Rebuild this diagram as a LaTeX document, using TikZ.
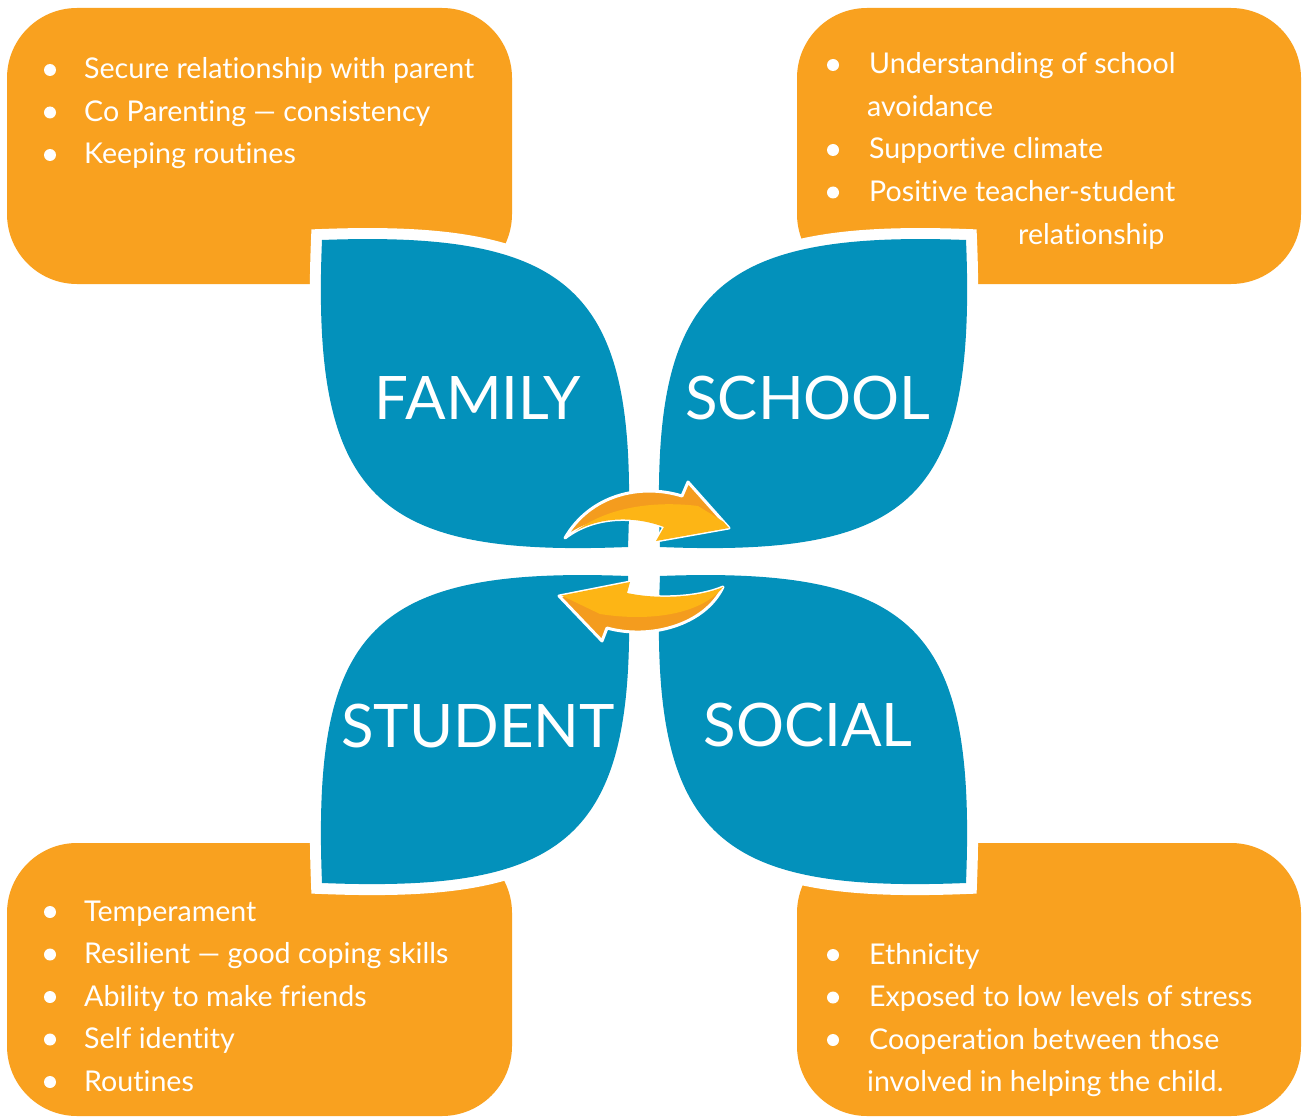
\documentclass[tikz,border=0pt]{standalone}
\usepackage{fontspec}
\setmainfont[Ligatures=NoCommon]{Lato}
\definecolor{boxorange}{HTML}{F9A11F}
\definecolor{petalblue}{HTML}{0391BB}
\definecolor{arrdark}{HTML}{F49C1E}
\definecolor{arrlight}{HTML}{FDB515}
\newcommand\petalshape{(-153,-154) .. controls (107,-164) and (163,-97) .. (153,153) .. controls (-97,163) and (-164,107) .. (-153,-154) -- cycle}
\newcommand\uparrowshape{(565,538) .. controls (590,495) and (640,483) .. (682,496) -- (688,482) -- (729,528) -- (656,541) -- (664,527) .. controls (635,516) and (595,515) .. (565,538) -- cycle}
\newcommand\downarrowshape{(723,587) .. controls (705,625) and (650,640) .. (607,628) -- (602,641) -- (559,596) -- (630,582) -- (627,593) .. controls (660,600) and (700,597) .. (723,587) -- cycle}
\begin{document}
\begin{tikzpicture}[x=1pt,y=-1pt,
  orangebox/.style={fill=boxorange, rounded corners=70pt},
  petalrim/.style={draw=white, line width=22pt, line join=miter, miter limit=4},
  petalfill/.style={fill=petalblue},
  petallabel/.style={anchor=base, text=white, inner sep=0pt, font=\fontsize{60}{62}\selectfont},
  item/.style={anchor=base west, text=white, inner sep=0pt, font=\fontsize{28.6}{32}\selectfont},
  dot/.style={circle, fill=white, inner sep=0pt, minimum size=12pt},
  arrowbody/.style={fill=arrdark, draw=white, line width=3pt, line join=round}]
\useasboundingbox (0,0) rectangle (1306,1118);
\fill[white] (0,0) rectangle (1306,1118);
% orange boxes
\fill[orangebox] (7,8) rectangle (512,284);
\fill[orangebox] (797,8) rectangle (1301,284);
\fill[orangebox] (7,843) rectangle (512,1116);
\fill[orangebox] (797,843) rectangle (1301,1116);
% petal rims
\begin{scope}[shift={(475,394)}]\path[petalrim] \petalshape;\end{scope}
\begin{scope}[shift={(813,394)},xscale=-1]\path[petalrim] \petalshape;\end{scope}
\begin{scope}[shift={(475,730)},xscale=-1]\path[petalrim] \petalshape;\end{scope}
\begin{scope}[shift={(813,730)}]\path[petalrim] \petalshape;\end{scope}
% petal fills
\begin{scope}[shift={(475,394)}]\path[petalfill] \petalshape;\end{scope}
\begin{scope}[shift={(813,394)},xscale=-1]\path[petalfill] \petalshape;\end{scope}
\begin{scope}[shift={(475,730)},xscale=-1]\path[petalfill] \petalshape;\end{scope}
\begin{scope}[shift={(813,730)}]\path[petalfill] \petalshape;\end{scope}
% petal labels
\node[petallabel] (family) at (478,419) {FAMILY};
\node[petallabel] (school) at (808,419) {SCHOOL};
\node[petallabel] (student) at (478,747) {STUDENT};
\node[petallabel] (social) at (808,746) {SOCIAL};
% arrows
\path[arrowbody] \uparrowshape;
\begin{scope}
  \clip \uparrowshape;
  \fill[arrlight] (560,546) .. controls (592,508) and (650,500) .. (698,506) -- (745,535) -- (745,560) -- (555,560) -- cycle;
\end{scope}
\path[arrowbody] \downarrowshape;
\begin{scope}
  \clip \downarrowshape;
  \fill[arrlight] (728,580) .. controls (708,615) and (650,622) .. (600,614) -- (550,590) -- (550,570) -- (735,570) -- cycle;
\end{scope}
% family items
\node[dot] (d1) at (50,70) {};
\node[dot] (d2) at (50,112.5) {};
\node[dot] (d3) at (50,155) {};
\node[item] (f1) at (84,79) {Secure relationship with parent};
\node[item] (f2) at (84,121.5) {Co Parenting — consistency};
\node[item] (f3) at (84,164) {Keeping routines};
% school items
\node[dot] (d4) at (833,65) {};
\node[dot] (d5) at (833,150) {};
\node[dot] (d6) at (833,192.5) {};
\node[item] (s1) at (869,74) {Understanding of school};
\node[item] (s2) at (867,116.5) {avoidance};
\node[item] (s3) at (869,159) {Supportive climate};
\node[item] (s4) at (869,201.5) {Positive teacher-student};
\node[item] (s5) at (1018,244) {relationship};
% student items
\node[dot] (d7) at (50,912) {};
\node[dot] (d8) at (50,954.5) {};
\node[dot] (d9) at (50,997) {};
\node[dot] (d10) at (50,1039.5) {};
\node[dot] (d11) at (50,1082) {};
\node[item] (t1) at (84,921) {Temperament};
\node[item] (t2) at (84,963.5) {Resilient — good coping skills};
\node[item] (t3) at (84,1006) {Ability to make friends};
\node[item] (t4) at (84,1048.5) {Self identity};
\node[item] (t5) at (84,1091) {Routines};
% social items
\node[dot] (d12) at (833,955) {};
\node[dot] (d13) at (833,997.5) {};
\node[dot] (d14) at (833,1040) {};
\node[item] (c1) at (869,964) {Ethnicity};
\node[item] (c2) at (869,1006.5) {Exposed to low levels of stress};
\node[item] (c3) at (869,1049) {Cooperation between those};
\node[item] (c4) at (867,1091.5) {involved in helping the child.};
\end{tikzpicture}
\end{document}
